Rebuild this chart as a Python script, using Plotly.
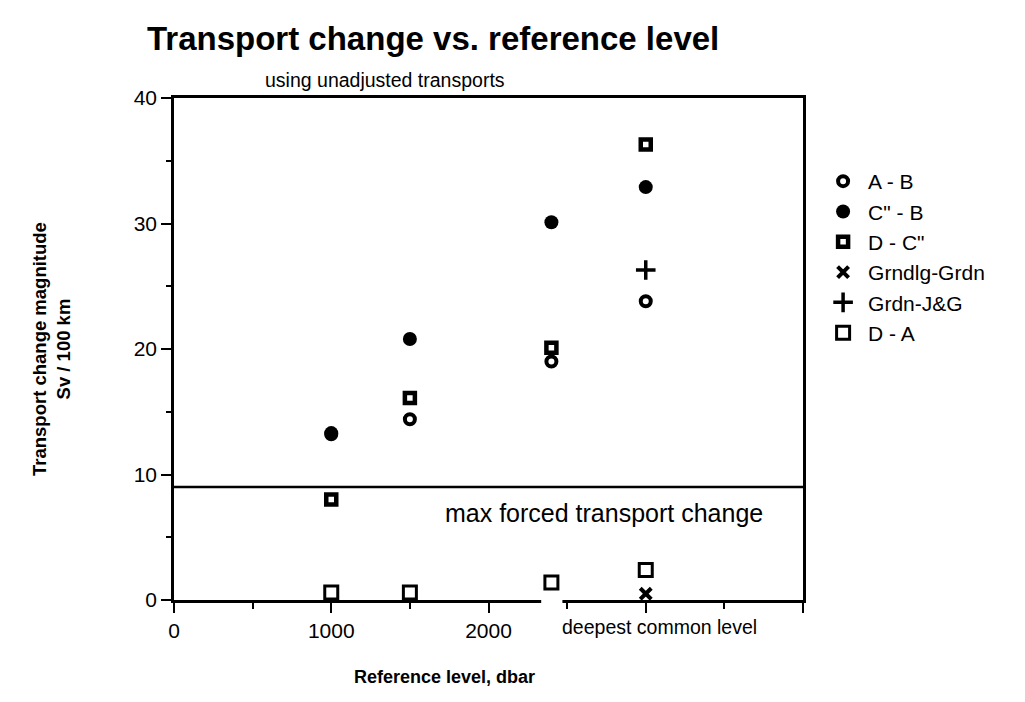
import plotly.graph_objects as go

# Reference levels (dbar); the last column is the deepest common level
ref_level = [1000, 1500, 2400, 3000]

a_b = [13.2, 14.4, 19.0, 23.8]
c_b = [13.3, 20.8, 30.1, 32.9]
d_c = [8.0, 16.1, 20.1, 36.3]
grndlg_grdn_x = [3000]
grndlg_grdn = [0.5]
grdn_jg_x = [3000]
grdn_jg = [26.3]
d_a = [0.6, 0.6, 1.4, 2.4]

max_forced = 9.0

x_tick_vals = [0, 1000, 2000, 3000, 4000]
x_tick_text = ["0", "1000", "2000", "", ""]
y_tick_vals = [0, 10, 20, 30, 40]

FONT = "Liberation Sans, Arial, sans-serif"
INK = "black"

fig = go.Figure()

series = [
    ("A - B", ref_level, a_b, dict(symbol="circle-open", size=10, color=INK, line=dict(width=4, color=INK))),
    ("C\" - B", ref_level, c_b, dict(symbol="circle", size=14, color=INK, line=dict(width=0))),
    ("D - C\"", ref_level, d_c, dict(symbol="square-open", size=10, color=INK, line=dict(width=4.5, color=INK))),
    ("Grndlg-Grdn", grndlg_grdn_x, grndlg_grdn, dict(symbol="x-thin-open", size=11, color=INK, line=dict(width=4, color=INK))),
    ("Grdn-J&G", grdn_jg_x, grdn_jg, dict(symbol="cross-thin-open", size=14, color=INK, line=dict(width=3.5, color=INK))),
    ("D - A", ref_level, d_a, dict(symbol="square-open", size=13, color=INK, line=dict(width=3, color=INK))),
]

for name, xs, ys, mk in series:
    fig.add_trace(go.Scatter(x=xs, y=ys, mode="markers", name=name, marker=mk))

# Threshold line for the largest forced transport change
fig.add_shape(type="line", xref="paper", yref="y", x0=0, x1=1,
              y0=max_forced, y1=max_forced, line=dict(color=INK, width=2.5))

# Break in the bottom axis around the 2400 dbar level
fig.add_shape(type="rect", xref="paper", yref="paper",
              x0=2335 / 4000, x1=2470 / 4000, y0=-0.012, y1=0.008,
              fillcolor="white", line=dict(width=0), layer="above")

def note(text, x, y, size, xanchor="center", xref="paper", yref="paper", angle=0):
    fig.add_annotation(text=text, x=x, y=y, xref=xref, yref=yref, showarrow=False,
                       xanchor=xanchor, yanchor="middle", textangle=angle,
                       font=dict(family=FONT, size=size, color=INK))

PX_X = lambda px: (px - 174) / 629
PX_Y = lambda py: (600 - py) / 502

note("max forced transport change", PX_X(443), PX_Y(513), 25, xanchor="left")
note("using unadjusted transports", PX_X(385), PX_Y(80), 19.5)
note("<b>Transport change vs. reference level</b>", PX_X(433), PX_Y(38), 33)
note("deepest common level", PX_X(560), PX_Y(627), 19.5, xanchor="left")
note("<b>Reference level, dbar</b>", PX_X(444), PX_Y(677), 18)
note("<b>Transport change magnitude<br>Sv / 100 km</b>", PX_X(51), 0.5, 18.5, angle=-90)

fig.update_xaxes(
    range=[0, 4000], showgrid=False, zeroline=False,
    showline=True, linecolor=INK, linewidth=2.5, mirror=True,
    tickmode="array", tickvals=x_tick_vals, ticktext=x_tick_text,
    ticks="outside", ticklen=10, tickwidth=2, tickcolor=INK,
    minor=dict(tickvals=[500, 1500, 2500, 3500], ticks="outside", ticklen=6,
               tickwidth=2, tickcolor=INK),
    tickfont=dict(family=FONT, size=21, color=INK),
)
fig.update_yaxes(
    range=[0, 40], showgrid=False, zeroline=False,
    showline=True, linecolor=INK, linewidth=2.5, mirror=True,
    tickmode="array", tickvals=y_tick_vals,
    ticks="outside", ticklen=10, tickwidth=2, tickcolor=INK,
    minor=dict(tickvals=[5, 15, 25, 35], ticks="outside", ticklen=5,
               tickwidth=2, tickcolor=INK),
    tickfont=dict(family=FONT, size=21, color=INK),
)

fig.update_layout(
    width=1025, height=702,
    margin=dict(l=174, r=222, t=98, b=102),
    plot_bgcolor="white", paper_bgcolor="white",
    font=dict(family=FONT, color=INK),
    legend=dict(x=1.024, y=0.8745, xanchor="left", yanchor="top",
                font=dict(family=FONT, size=21, color=INK),
                itemwidth=40, bgcolor="rgba(0,0,0,0)"),
)

fig.write_html("out.html")
